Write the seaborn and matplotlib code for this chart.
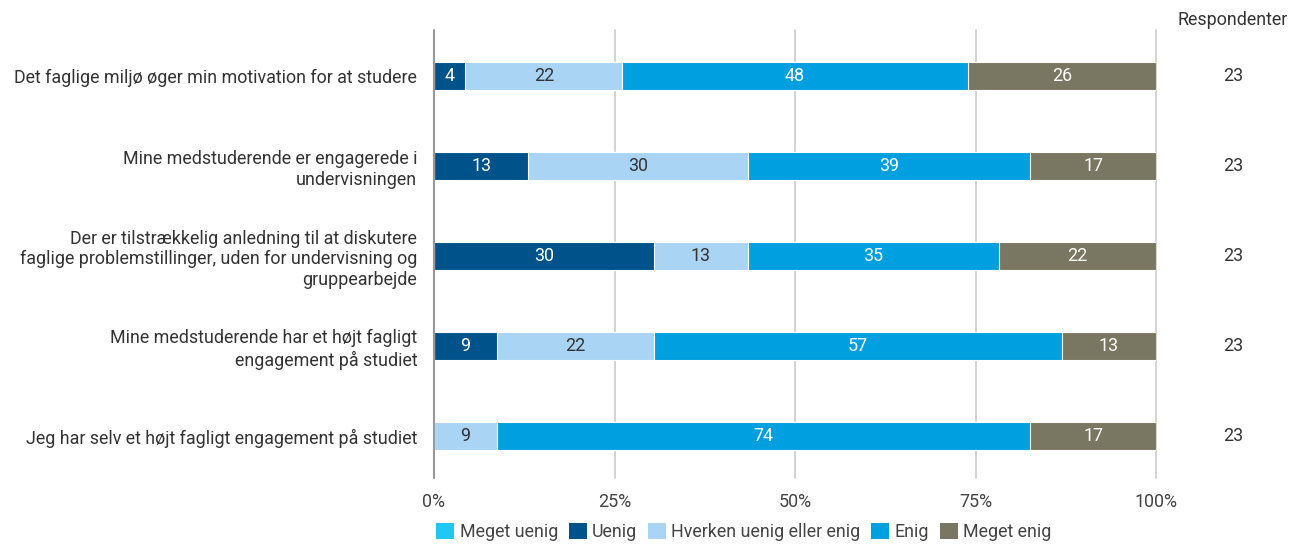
import numpy as np
import pandas as pd
import matplotlib
matplotlib.use("Agg")
import matplotlib.pyplot as plt
from matplotlib.patches import Patch
import seaborn as sns

# --- data (counts of 23 respondents per answer) ---
questions = [
    "Det faglige miljø øger min motivation for at studere",
    "Mine medstuderende er engagerede i\nundervisningen",
    "Der er tilstrækkelig anledning til at diskutere\nfaglige problemstillinger, uden for undervisning og\ngruppearbejde",
    "Mine medstuderende har et højt fagligt\nengagement på studiet",
    "Jeg har selv et højt fagligt engagement på studiet",
]
categories = ["Meget uenig", "Uenig", "Hverken uenig eller enig", "Enig", "Meget enig"]
meget_uenig = [0, 0, 0, 0, 0]
uenig = [1, 3, 7, 2, 0]
hverken = [5, 7, 3, 5, 2]
enig = [11, 9, 8, 13, 17]
meget_enig = [6, 4, 5, 3, 4]
respondents = [23, 23, 23, 23, 23]

colors = ["#1ec8f5", "#00538a", "#a9d4f3", "#009fe0", "#797661"]
text_colors = ["white", "white", "#333333", "white", "white"]

counts = np.array([meget_uenig, uenig, hverken, enig, meget_enig], dtype=float).T
pct = counts / np.array(respondents)[:, None] * 100
cum = pct.cumsum(axis=1)

sns.set_style("white")
plt.rcParams["font.family"] = ["Roboto", "DejaVu Sans"]
FS = 12.9

fig = plt.figure(figsize=(13.03, 5.45), dpi=100)
ax = fig.add_axes([434 / 1303, 1 - 478 / 545, 722 / 1303, 448 / 545])

# stacked bars: draw cumulative totals from the last category backwards
for i in range(len(categories) - 1, -1, -1):
    df = pd.DataFrame({"question": questions, "value": cum[:, i]})
    sns.barplot(data=df, x="value", y="question", color=colors[i], orient="h",
                saturation=1, width=0.31, edgecolor="white", linewidth=0.8,
                ax=ax, zorder=2)

for r in range(len(questions)):
    for i in range(len(categories)):
        v = pct[r, i]
        if v <= 0:
            continue
        ax.text(cum[r, i] - v / 2, r, f"{v:.0f}", ha="center", va="center",
                color=text_colors[i], fontsize=FS, zorder=3)
    ax.text(1.0 + 77 / 722, r, str(respondents[r]), transform=ax.get_yaxis_transform(),
            ha="center", va="center", fontsize=FS, color="#333333")

ax.text(1.0 + 77 / 722, 1.022, "Respondenter", transform=ax.transAxes,
        ha="center", va="center", fontsize=FS, color="#333333")

ax.set_xlim(0, 100)
ax.set_ylim(4.467, -0.511)
ax.set_xticks([0, 25, 50, 75, 100])
ax.set_xticklabels(["0%", "25%", "50%", "75%", "100%"])
ax.tick_params(axis="x", length=0, pad=11, labelsize=FS, labelcolor="#444444")
ax.tick_params(axis="y", length=0, pad=12, labelsize=FS, labelcolor="#333333")
ax.set_xlabel("")
ax.set_ylabel("")
for lbl in ax.get_yticklabels():
    lbl.set_multialignment("right")
for x in [25, 50, 75, 100]:
    ax.axvline(x, color="#cccccc", linewidth=1.2, zorder=1, clip_on=False)
ax.axvline(0, color="#999999", linewidth=1.5, zorder=4, clip_on=False)
for s in ax.spines.values():
    s.set_visible(False)

handles = [Patch(facecolor=c, edgecolor="none", label=l) for c, l in zip(colors, categories)]
fig.legend(handles=handles, loc="center", bbox_to_anchor=(744 / 1303, 1 - 532 / 545),
           ncol=5, frameon=False, fontsize=FS, handlelength=1.0, handleheight=1.0,
           handletextpad=0.3, columnspacing=0.6, labelcolor="#444444")

fig.savefig("out.png", dpi=100)
